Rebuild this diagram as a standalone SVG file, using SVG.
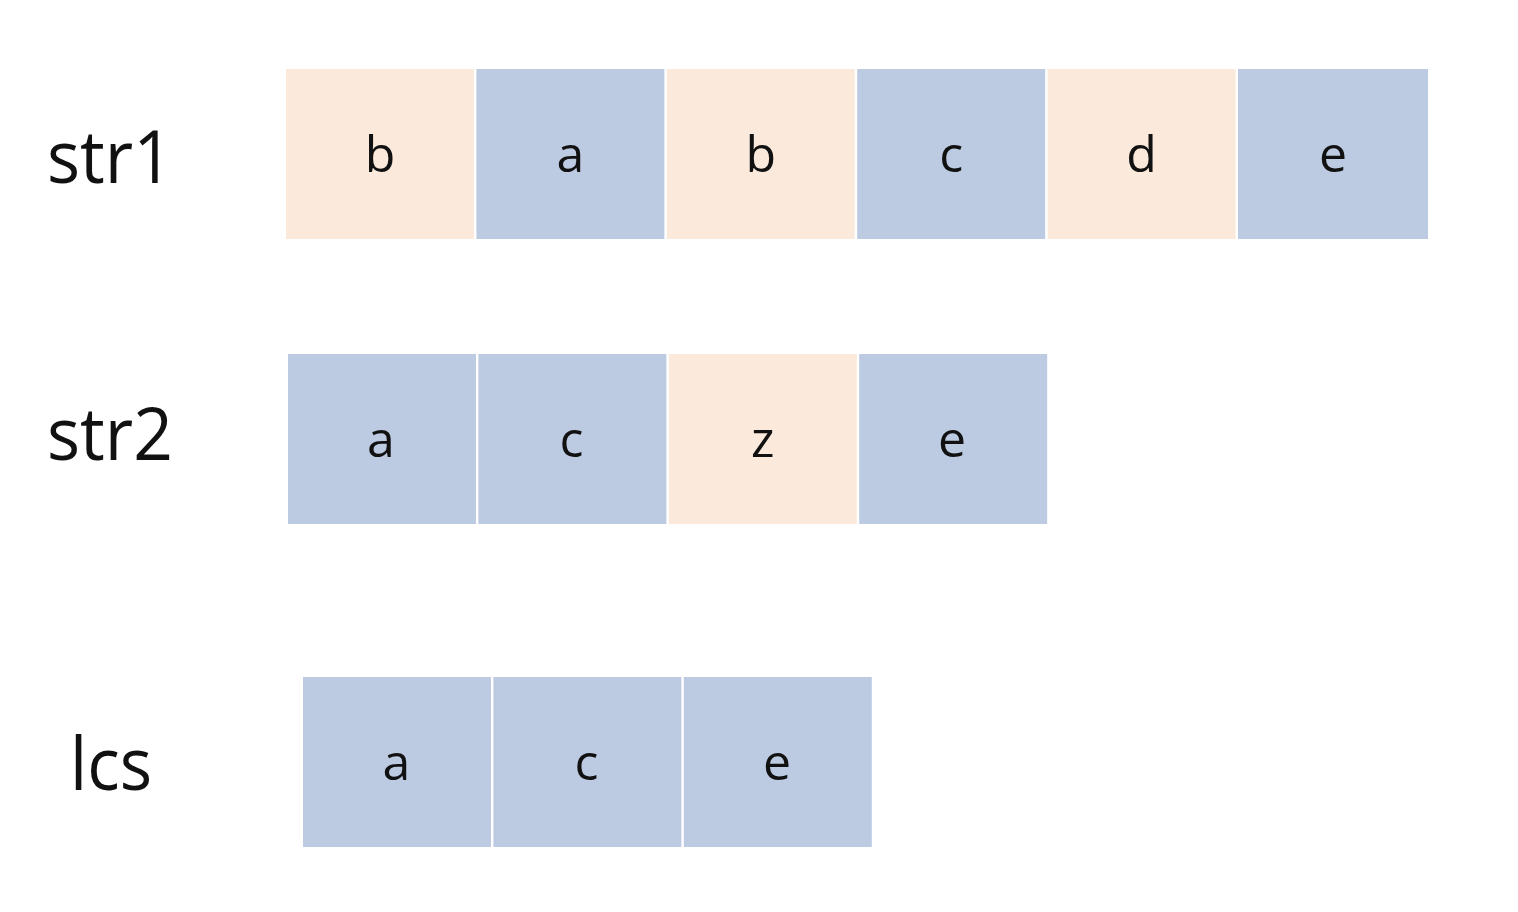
<svg xmlns="http://www.w3.org/2000/svg" width="1518" height="912" viewBox="0 0 1518 912">
<style>
.blue{fill:#BDCBE2}
.peach{fill:#FBEADC}
.cell{font-family:"Open Sans","Noto Sans",sans-serif;font-size:50px;fill:#111;text-anchor:middle}
.lbl{font-family:"Open Sans","Noto Sans",sans-serif;font-size:74px;fill:#111}
</style>
<rect width="1518" height="912" fill="#fff"/>
<g id="labels">
<text class="lbl" x="47" y="183" textLength="126" lengthAdjust="spacingAndGlyphs">str1</text>
<text class="lbl" x="47" y="460" textLength="126" lengthAdjust="spacingAndGlyphs">str2</text>
<text class="lbl" x="70" y="790" textLength="82" lengthAdjust="spacingAndGlyphs">lcs</text>
</g>
<g id="str1">
<g id="s1-0"><rect class="peach" x="286" y="69" width="188" height="170"/><text class="cell" x="380" y="172">b</text></g>
<g id="s1-1"><rect class="blue" x="476.4" y="69" width="188" height="170"/><text class="cell" x="570.4" y="172">a</text></g>
<g id="s1-2"><rect class="peach" x="666.8" y="69" width="188" height="170"/><text class="cell" x="760.8" y="172">b</text></g>
<g id="s1-3"><rect class="blue" x="857.2" y="69" width="188" height="170"/><text class="cell" x="951.2" y="172">c</text></g>
<g id="s1-4"><rect class="peach" x="1047.6" y="69" width="188" height="170"/><text class="cell" x="1141.6" y="172">d</text></g>
<g id="s1-5"><rect class="blue" x="1238" y="69" width="190" height="170"/><text class="cell" x="1333" y="172">e</text></g>
</g>
<g id="str2">
<g id="s2-0"><rect class="blue" x="288" y="354" width="188" height="170"/><text class="cell" x="381" y="457">a</text></g>
<g id="s2-1"><rect class="blue" x="478.4" y="354" width="188" height="170"/><text class="cell" x="571.4" y="457">c</text></g>
<g id="s2-2"><rect class="peach" x="668.8" y="354" width="188" height="170"/><text class="cell" x="762.8" y="457">z</text></g>
<g id="s2-3"><rect class="blue" x="859.2" y="354" width="188" height="170"/><text class="cell" x="952" y="457">e</text></g>
</g>
<g id="lcs">
<g id="l-0"><rect class="blue" x="303" y="677" width="188" height="170"/><text class="cell" x="396.5" y="780">a</text></g>
<g id="l-1"><rect class="blue" x="493.4" y="677" width="188" height="170"/><text class="cell" x="586.5" y="780">c</text></g>
<g id="l-2"><rect class="blue" x="683.8" y="677" width="188" height="170"/><text class="cell" x="777" y="780">e</text></g>
</g>
<g id="connectors"></g>
</svg>
